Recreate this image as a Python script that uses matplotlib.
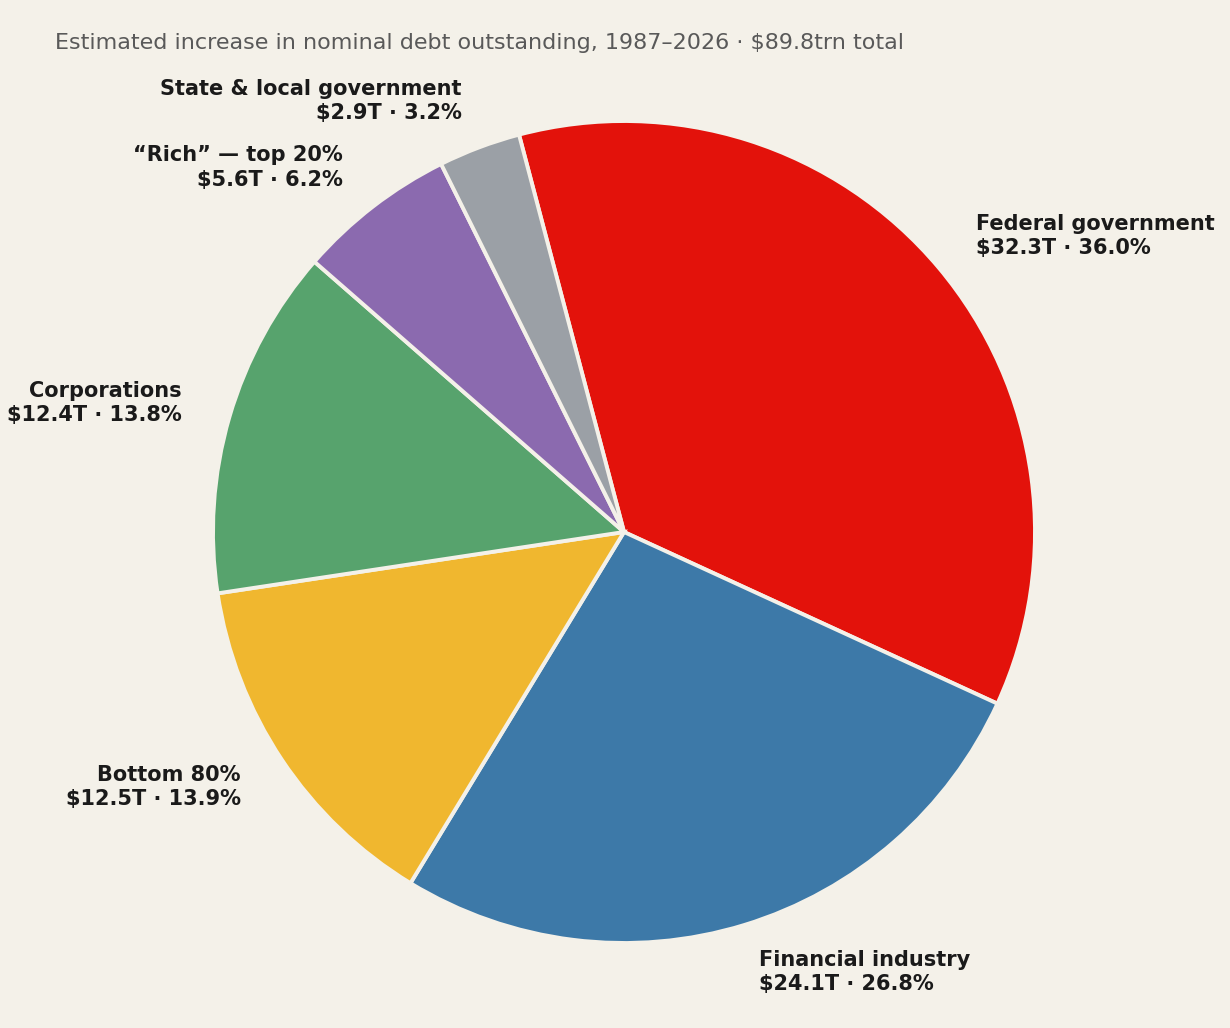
import matplotlib.pyplot as plt

# Debt increase by sector, clockwise from the top
sectors = ['Federal government', 'Financial industry', 'Bottom 80%',
           'Corporations', '\u201cRich\u201d \u2014 top 20%', 'State & local government']
values = [32.3, 24.1, 12.5, 12.4, 5.6, 2.9]
colors = ['#e3120b', '#3d79a8', '#f0b72f', '#57a36d', '#8b6aaf', '#9ba0a6']

total = sum(values)
labels = [f'{s}\n\\${v:.1f}T \u00b7 {v / total * 100:.1f}%' for s, v in zip(sectors, values)]

bg = '#f4f1e9'
fig = plt.figure(figsize=(12.3, 10.28), dpi=100, facecolor=bg)
ax = fig.add_axes([213 / 1230, 85 / 1028, 822 / 1230, 822 / 1028])
ax.set_facecolor(bg)

wedges, texts = ax.pie(values, labels=labels, colors=colors, startangle=104.8,
                       counterclock=False, labeldistance=1.12,
                       wedgeprops=dict(edgecolor=bg, linewidth=2.8),
                       textprops=dict(fontsize=15, fontweight='bold', color='#1a1a1a',
                                      linespacing=1.28))
ax.set_xlim(-1, 1)
ax.set_ylim(-1, 1)
ax.set_aspect('equal')

fig.text(55 / 1230, 1 - 43 / 1028,
         'Estimated increase in nominal debt outstanding, 1987\u20132026 \u00b7 $89.8trn total',
         fontsize=16, color='#595959', ha='left', va='center')

fig.savefig('out.png', dpi=100, facecolor=bg)
